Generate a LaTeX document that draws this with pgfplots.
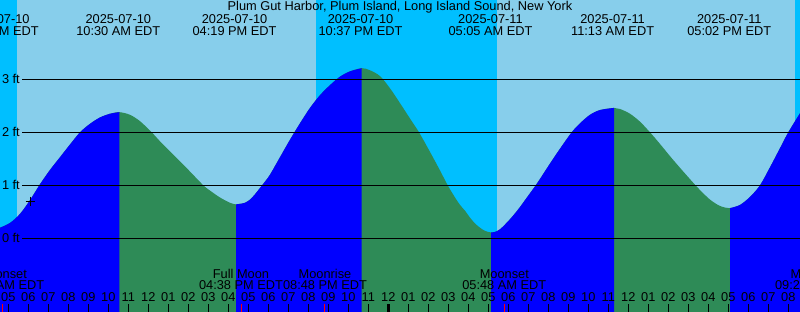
\documentclass[border=0pt]{standalone}
\usepackage{pgfplots}
\usepackage{pgfplotstable}
\pgfplotsset{compat=1.18}
\usepackage{fontspec}
\setmainfont{Liberation Sans}
\definecolor{day}{RGB}{135,206,235}
\definecolor{night}{RGB}{0,191,255}
\definecolor{rise}{RGB}{0,0,255}
\definecolor{fall}{RGB}{46,139,87}

% time in hours since 2025-07-10 00:00 EDT, height in ft
\pgfplotstableread{
t h
4.585 0.20
5.085 0.29
5.585 0.46
6.085 0.72
6.585 1.02
7.085 1.29
7.585 1.53
8.085 1.77
8.585 2.00
9.085 2.16
9.585 2.28
10.085 2.35
10.55 2.38
11.085 2.33
11.585 2.21
12.17 2.00
12.585 1.83
13.085 1.64
13.585 1.45
14.085 1.26
14.75 1.00
15.085 0.90
15.585 0.77
16.085 0.67
16.385 0.64
16.585 0.65
16.835 0.67
17.085 0.73
17.335 0.83
17.585 0.95
17.835 1.07
18.085 1.20
18.585 1.53
19.085 1.86
19.585 2.17
20.085 2.46
20.585 2.70
21.085 2.89
21.585 3.05
22.085 3.15
22.67 3.21
23.085 3.17
23.585 3.06
24.085 2.83
24.585 2.55
25.085 2.26
25.535 2.00
26.085 1.63
26.585 1.28
26.97 1.00
27.335 0.77
27.585 0.63
27.835 0.52
28.085 0.39
28.335 0.28
28.585 0.20
28.835 0.14
29.135 0.11
29.335 0.12
29.585 0.17
29.835 0.26
30.085 0.36
30.335 0.47
30.585 0.59
30.835 0.72
31.085 0.85
31.335 0.98
31.585 1.12
32.085 1.41
32.585 1.69
33.17 2.00
33.585 2.17
34.085 2.33
34.585 2.42
35.285 2.46
35.585 2.44
36.085 2.35
36.585 2.20
37.085 2.00
37.585 1.78
38.085 1.55
38.585 1.33
39.335 1.01
39.585 0.91
40.085 0.73
40.585 0.61
41.085 0.57
41.585 0.63
42.085 0.78
42.585 1.00
43.085 1.34
43.585 1.70
44.0 2.00
44.585 2.36
}\tide

\begin{document}
\begin{tikzpicture}[lbl/.style={font=\fontsize{12.8bp}{14bp}\selectfont, inner sep=0pt, anchor=base}]
\begin{axis}[at={(0,0)}, anchor=south west, scale only axis,
  width=800bp, height=312bp,
  xmin=4.585, xmax=44.585, ymin=-1.3906, ymax=4.4962,
  hide axis, clip=true]
% day / night
\addplot[fill=day, draw=none] coordinates {(4.5,-2) (45,-2) (45,5) (4.5,5)} -- cycle;
\addplot[fill=night, draw=none] coordinates {(4.5,-2) (5.42,-2) (5.42,5) (4.5,5)} -- cycle;
\addplot[fill=night, draw=none] coordinates {(20.385,-2) (29.42,-2) (29.42,5) (20.385,5)} -- cycle;
\addplot[fill=night, draw=none] coordinates {(44.335,-2) (45,-2) (45,5) (44.335,5)} -- cycle;
% water: falling (green) everywhere, rising (blue) on top
\addplot[fill=fall, draw=none, smooth, tension=0.5] table[x=t,y=h] {\tide} -- (axis cs:44.585,-2) -- (axis cs:4.585,-2) -- cycle;
\addplot[fill=rise, draw=none, smooth, tension=0.5, restrict x to domain=4:10.56] table[x=t,y=h] {\tide} -- (axis cs:10.55,-2) -- (axis cs:4.585,-2) -- cycle;
\addplot[fill=rise, draw=none, smooth, tension=0.5, restrict x to domain=16.38:22.68] table[x=t,y=h] {\tide} -- (axis cs:22.67,-2) -- (axis cs:16.385,-2) -- cycle;
\addplot[fill=rise, draw=none, smooth, tension=0.5, restrict x to domain=29.13:35.29] table[x=t,y=h] {\tide} -- (axis cs:35.285,-2) -- (axis cs:29.135,-2) -- cycle;
\addplot[fill=rise, draw=none, smooth, tension=0.5, restrict x to domain=41.08:45] table[x=t,y=h] {\tide} -- (axis cs:44.585,-2) -- (axis cs:41.085,-2) -- cycle;
% level lines
\addplot[black, line width=1bp] coordinates {(5.685,0) (44.585,0)};
\addplot[black, line width=1bp] coordinates {(5.685,1) (44.585,1)};
\addplot[black, line width=1bp] coordinates {(5.685,2) (44.585,2)};
\addplot[black, line width=1bp] coordinates {(5.685,3) (44.585,3)};
% current time marker
\addplot[black, only marks, mark=+, mark size=4.5bp, line width=1bp] coordinates {(6.085,0.70)};
\end{axis}
% hour ticks and labels (x px = 20 t - 91.7)
\foreach \t in {5,...,44} {
  \draw[black, line width=1bp] ({(20*\t-91.7)*1bp},0) -- ({(20*\t-91.7)*1bp},8bp);
  \pgfmathtruncatemacro\hh{mod(\t-1,12)+1}
  \node[lbl] at ({(20*\t-91.7)*1bp},10.7bp) {\ifnum\hh<10 0\fi\hh};
}
\draw[black, line width=3bp] (388.3bp,0) -- (388.3bp,8bp);
\foreach \x in {2.3,241,324,504} \draw[red, line width=1bp] (\x bp,0) -- (\x bp,8bp);
% y labels
\node[lbl, anchor=base east] at (20bp,228.7bp) {3 ft};
\node[lbl, anchor=base east] at (20bp,175.7bp) {2 ft};
\node[lbl, anchor=base east] at (20bp,122.7bp) {1 ft};
\node[lbl, anchor=base east] at (20bp,69.7bp) {0 ft};
% title
\node[lbl] at (400bp,301.3bp) {Plum Gut Harbor, Plum Island, Long Island Sound, New York};
% tide events
\foreach \x/\d/\tm in {-3.2/2025-07-10/04:26 AM EDT, 118.3/2025-07-10/10:30 AM EDT, 234.6/2025-07-10/04:19 PM EDT, 360.6/2025-07-10/10:37 PM EDT, 490.5/2025-07-11/05:05 AM EDT, 612.6/2025-07-11/11:13 AM EDT, 729.3/2025-07-11/05:02 PM EDT} {
  \node[lbl] at (\x bp,288bp) {\d};
  \node[lbl] at (\x bp,276bp) {\tm};
}
% moon events
\foreach \x/\e/\tm in {2.3/Moonset/04:43 AM EDT, 241/Full Moon/04:38 PM EDT, 325/Moonrise/08:48 PM EDT, 504.3/Moonset/05:48 AM EDT, 817/Moonrise/09:26 PM EDT} {
  \node[lbl] at (\x bp,33.7bp) {\e};
  \node[lbl] at (\x bp,22.7bp) {\tm};
}
\pgfresetboundingbox
\useasboundingbox (0,0) rectangle (800bp,312bp);
\end{tikzpicture}
\end{document}
